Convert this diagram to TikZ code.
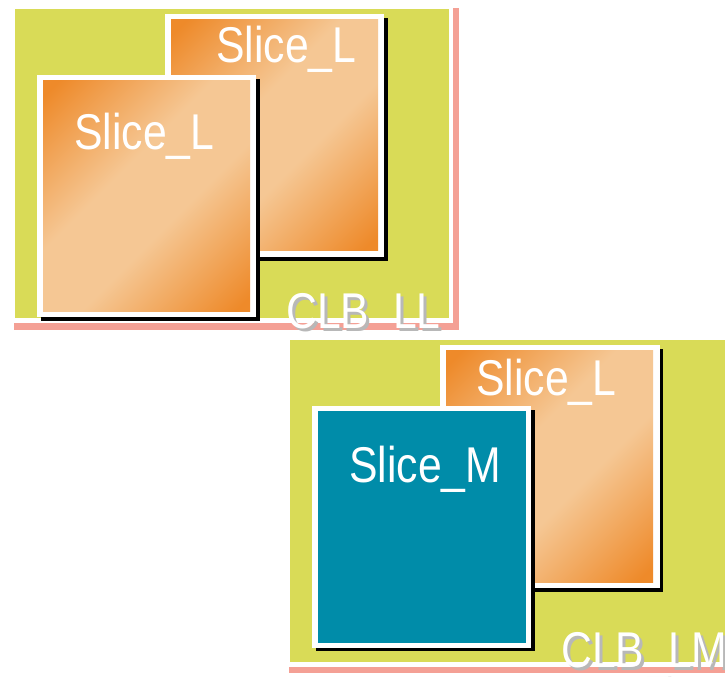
\documentclass[tikz,border=0pt]{standalone}
\usepackage{fontspec}
\setmainfont{Liberation Sans}
\newfontfamily\narrowsans[FakeStretch=0.85]{Liberation Sans}
\definecolor{clbgreen}{HTML}{D9DB57}
\definecolor{clbpink}{HTML}{F4A095}
\definecolor{slicedark}{HTML}{EE8A2A}
\definecolor{slicelight}{HTML}{F5C794}
\definecolor{sliceteal}{HTML}{008CA9}
\definecolor{txtshadow}{HTML}{B8B8B8}
\pgfdeclareverticalshading{slicegrad}{100bp}{color(0bp)=(slicedark); color(17bp)=(slicedark); color(42bp)=(slicelight); color(58bp)=(slicelight); color(83bp)=(slicedark); color(100bp)=(slicedark)}
\begin{document}
\begin{tikzpicture}[x=0.75pt,y=-0.75pt,
  lbl/.style={text=white,font=\narrowsans\fontsize{37.7}{40}\selectfont,inner sep=0pt,anchor=base west},
  lblshadow/.style={lbl,text=txtshadow},
  orangefill/.style={shading=slicegrad,shading angle=45},
  tealfill/.style={fill=sliceteal}]
\useasboundingbox (0,0) rectangle (725,677);
% ---- CLB_LL ----
\fill[clbpink] (14,8) rectangle (459,330);
\fill[white] (10,4) rectangle (453,323);
\fill[clbgreen] (15,9) rectangle (449,318);
% back slice
\fill[black] (169,18) rectangle (388,261);
\fill[white] (165,14) rectangle (384,257);
\shade[orangefill] (171,20) rectangle (378,251);
% front slice
\fill[black] (41,79) rectangle (260,321);
\fill[white] (37,75) rectangle (256,317);
\shade[orangefill] (43,81) rectangle (250,312);
\node[lbl] (sl1) at (216,63) {Slice\_L};
\node[lbl] (sl2) at (74,150) {Slice\_L};
\node[lblshadow] (clbllsh) at (289,332) {CLB\_LL};
\node[lbl] (clbll) at (286,329) {CLB\_LL};
% ---- CLB_LM ----
\fill[clbpink] (289,345) rectangle (760,673);
\fill[white] (285,336) rectangle (760,667);
\fill[clbgreen] (290,340) rectangle (760,662);
% back slice L
\fill[black] (444,349) rectangle (663,592);
\fill[white] (440,345) rectangle (660,588);
\shade[orangefill] (446,351) rectangle (653,582);
% front slice M
\fill[black] (316,410) rectangle (535,651);
\fill[white] (312,406) rectangle (531,648);
\fill[tealfill] (318,411) rectangle (526,643);
\node[lbl] (sl3) at (476,395) {Slice\_L};
\node[lbl] (sm) at (349,482) {Slice\_M};
\node[lblshadow] (clblmsh) at (564,670) {CLB\_LM};
\node[lbl] (clblm) at (561,667) {CLB\_LM};
\end{tikzpicture}
\end{document}
